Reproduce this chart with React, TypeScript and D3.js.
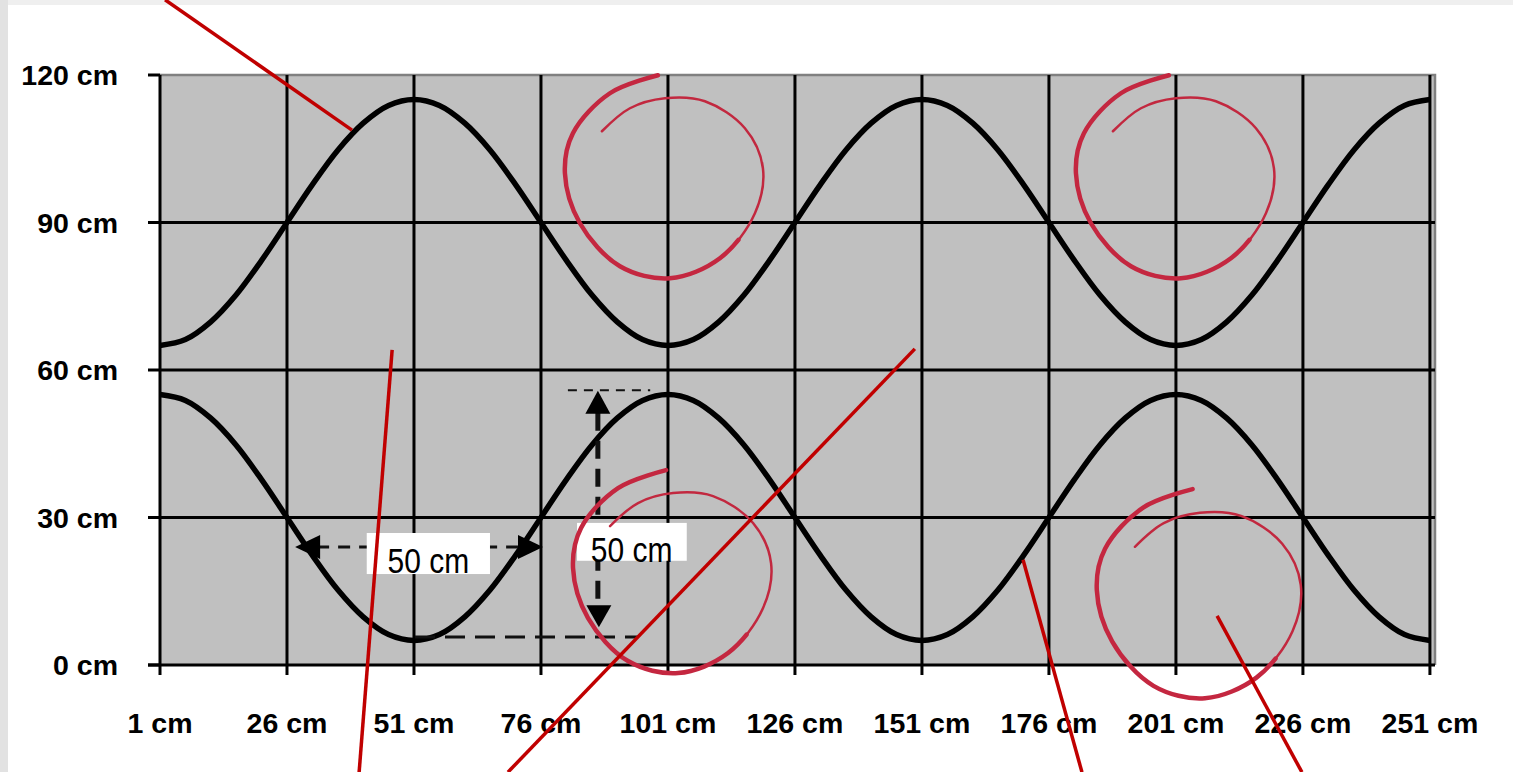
import React, { useEffect } from 'react';
import * as d3 from 'd3';

const W = 1513;
const H = 772;

// sampled every 5 cm along the x axis
const positions = d3.range(1, 252, 5);

const upperWave = [
  65, 66.2, 69.8, 75.3, 82.3, 90, 97.7, 104.7, 110.2, 113.8,
  115, 113.8, 110.2, 104.7, 97.7, 90, 82.3, 75.3, 69.8, 66.2,
  65, 66.2, 69.8, 75.3, 82.3, 90, 97.7, 104.7, 110.2, 113.8,
  115, 113.8, 110.2, 104.7, 97.7, 90, 82.3, 75.3, 69.8, 66.2,
  65, 66.2, 69.8, 75.3, 82.3, 90, 97.7, 104.7, 110.2, 113.8,
  115,
];

const lowerWave = [
  55, 53.8, 50.2, 44.7, 37.7, 30, 22.3, 15.3, 9.8, 6.2,
  5, 6.2, 9.8, 15.3, 22.3, 30, 37.7, 44.7, 50.2, 53.8,
  55, 53.8, 50.2, 44.7, 37.7, 30, 22.3, 15.3, 9.8, 6.2,
  5, 6.2, 9.8, 15.3, 22.3, 30, 37.7, 44.7, 50.2, 53.8,
  55, 53.8, 50.2, 44.7, 37.7, 30, 22.3, 15.3, 9.8, 6.2,
  5,
];

const xTicks = [1, 26, 51, 76, 101, 126, 151, 176, 201, 226, 251];
const yTicks = [0, 30, 60, 90, 120];

// hand-drawn annotations, in chart units
const pointerLines: [number, number, number, number][] = [
  [2.0, 135.3, 38.8, 108.8],
  [46.7, 64.1, 40.2, -21.8],
  [149.6, 64.3, 69.5, -21.8],
  [170.9, 21.4, 182.5, -21.8],
  [209.1, 10.0, 225.8, -21.8],
];
const swirlCenters: [number, number, number][] = [
  [100.4, 99.0, 1],
  [201.0, 99.0, 1],
  [102.0, 18.7, 1],
  [205.7, 14.2, 1.03],
];
const swirlShape: [number, number][] = [
  [-7, -103], [-55, -85], [-92, -45], [-100, -5], [-85, 45], [-45, 88], [5, 100],
  [55, 80], [90, 35], [98, -10], [80, -50], [40, -77], [0, -80], [-35, -70], [-63, -47],
];

const spanLabels = ['50 cm', '50 cm'];

export default function App() {
  useEffect(() => {
    document.body.style.margin = '0';
  }, []);

  const x = d3.scaleLinear().domain([1, 252]).range([160, 1435]);
  const y = d3.scaleLinear().domain([0, 120]).range([665, 75]);

  const wave = d3
    .line<number>()
    .x((_, i) => x(positions[i]))
    .y((d) => y(d))
    .curve(d3.curveCatmullRom);

  const swirlLine = d3
    .line<[number, number]>()
    .x((d) => d[0])
    .y((d) => d[1])
    .curve(d3.curveCatmullRom);

  const font = '"Liberation Sans", Arial, sans-serif';

  // dimension arrows
  const hY = y(24.0);
  const hX0 = x(27.6);
  const hX1 = x(76.4);
  const vX = x(87.2);
  const vY0 = y(55.8);
  const vY1 = y(7.7);

  return (
    <svg width={W} height={H} style={{ position: 'absolute', left: 0, top: 0, display: 'block' }}>
      <rect x={0} y={0} width={W} height={H} fill="#efefef" />
      <rect x={0} y={0} width={8} height={H} fill="#e2e2e2" />
      <rect x={8} y={5} width={W - 8} height={H - 5} fill="#ffffff" />

      {/* plot area */}
      <rect x={x(1)} y={y(120)} width={x(252) - x(1)} height={y(0) - y(120)} fill="#c0c0c0" />
      <path
        d={`M${x(1)},${y(120)}H${x(252)}V${y(0)}`}
        fill="none"
        stroke="#808080"
        strokeWidth={2.5}
      />

      {/* grid */}
      {xTicks.slice(1).map((t) => (
        <line key={'gx' + t} x1={x(t)} x2={x(t)} y1={y(120)} y2={y(0) + 10} stroke="#000" strokeWidth={3} />
      ))}
      {yTicks.slice(1, -1).map((t) => (
        <line key={'gy' + t} x1={x(1)} x2={x(252)} y1={y(t)} y2={y(t)} stroke="#000" strokeWidth={3} />
      ))}
      {yTicks.map((t) => (
        <line key={'ty' + t} x1={x(1) - 12} x2={x(1)} y1={y(t)} y2={y(t)} stroke="#000" strokeWidth={3} />
      ))}
      <line x1={x(1)} x2={x(1)} y1={y(120)} y2={y(0) + 10} stroke="#000" strokeWidth={3} />
      <line x1={x(1) - 12} x2={x(252)} y1={y(0)} y2={y(0)} stroke="#000" strokeWidth={3} />

      {/* tick labels */}
      {yTicks.map((t) => (
        <text
          key={'ly' + t}
          x={118}
          y={y(t) + 10}
          textAnchor="end"
          fontFamily={font}
          fontWeight="bold"
          fontSize={28.5}
          fill="#000"
        >
          {t} cm
        </text>
      ))}
      {xTicks.map((t) => (
        <text
          key={'lx' + t}
          x={x(t)}
          y={733}
          textAnchor="middle"
          fontFamily={font}
          fontWeight="bold"
          fontSize={28.5}
          fill="#000"
        >
          {t} cm
        </text>
      ))}

      {/* waves */}
      <path d={wave(upperWave) || ''} fill="none" stroke="#000" strokeWidth={5.5} strokeLinejoin="round" />
      <path d={wave(lowerWave) || ''} fill="none" stroke="#000" strokeWidth={5.5} strokeLinejoin="round" />

      {/* horizontal span arrow */}
      <line x1={hX0 + 22} x2={hX1 - 22} y1={hY} y2={hY} stroke="#111" strokeWidth={3} strokeDasharray="12,9" />
      <path d={`M${hX0},${hY}L${hX0 + 25},${hY - 12}L${hX0 + 25},${hY + 12}Z`} fill="#000" />
      <path d={`M${hX1},${hY}L${hX1 - 25},${hY - 12}L${hX1 - 25},${hY + 12}Z`} fill="#000" />

      {/* vertical span arrow and guides */}
      <line x1={x(81.3)} x2={x(97.5)} y1={y(55.9)} y2={y(55.9)} stroke="#111" strokeWidth={2} strokeDasharray="9,7" />
      <line x1={x(51.2)} x2={x(95.1)} y1={y(5.7)} y2={y(5.7)} stroke="#111" strokeWidth={3} strokeDasharray="20,10" />
      <line x1={vX} x2={vX} y1={vY0 + 22} y2={vY1 - 20} stroke="#111" strokeWidth={5} strokeDasharray="18,10" />
      <path d={`M${vX},${vY0}L${vX - 12.5},${vY0 + 23}L${vX + 12.5},${vY0 + 23}Z`} fill="#000" />
      <path d={`M${vX + 1},${vY1}L${vX - 11.5},${vY1 - 22}L${vX + 13.5},${vY1 - 22}Z`} fill="#000" />

      {/* span labels */}
      <rect x={x(41.7)} y={y(26.85)} width={x(65.96) - x(41.7)} height={y(18.5) - y(26.85)} fill="#fff" />
      <text
        transform={`translate(${x(45.8)},${y(18.8)}) scale(1,1.15)`}
        fontFamily={font}
        fontSize={30}
        fill="#000"
      >
        {spanLabels[0]}
      </text>
      <rect x={x(83.1)} y={y(28.9)} width={x(104.7) - x(83.1)} height={y(21.2) - y(28.9)} fill="#fff" />
      <text
        transform={`translate(${x(85.8)},${y(21.0)}) scale(1,1.15)`}
        fontFamily={font}
        fontSize={30}
        fill="#000"
      >
        {spanLabels[1]}
      </text>

      {/* swirls */}
      {swirlCenters.map(([cx, cy, s], i) => {
        const pts = swirlShape.map(([dx, dy]) => [x(cx) + dx * s, y(cy) + dy * s] as [number, number]);
        const d = swirlLine(pts) || '';
        return (
          <g key={'sw' + i}>
            <path d={d} fill="none" stroke="#c2283f" strokeWidth={2.5} strokeLinecap="round" />
            <path
              d={d}
              pathLength={100}
              strokeDasharray="58,200"
              fill="none"
              stroke="#c42740"
              strokeWidth={4.5}
              strokeLinecap="round"
            />
          </g>
        );
      })}

      {/* pointer lines */}
      {pointerLines.map(([a, b, c, d], i) => (
        <line key={'pl' + i} x1={x(a)} y1={y(b)} x2={x(c)} y2={y(d)} stroke="#c00000" strokeWidth={3.5} />
      ))}
    </svg>
  );
}
